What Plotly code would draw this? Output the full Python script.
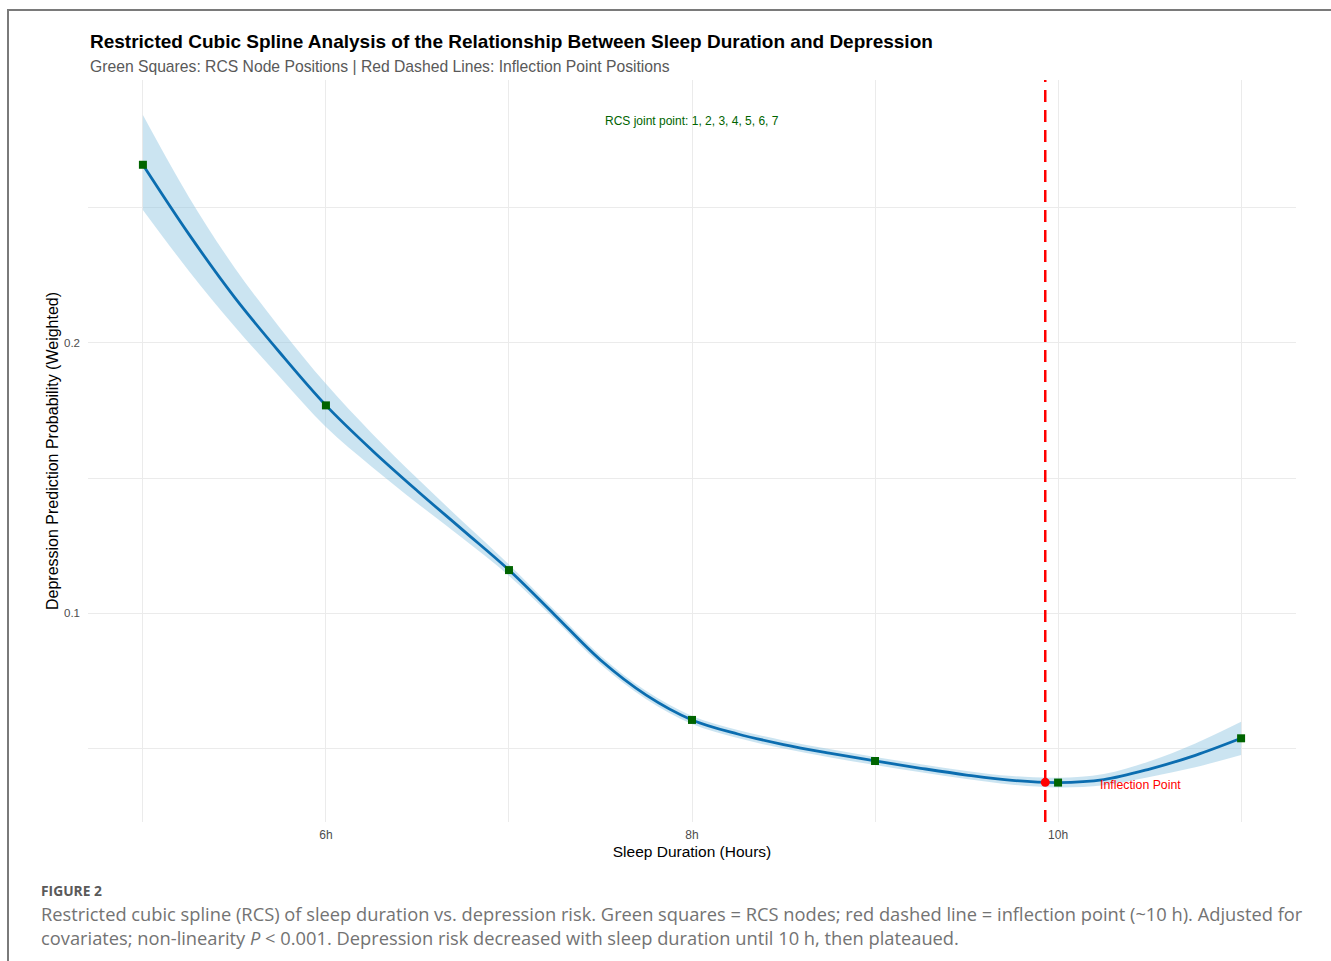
import plotly.graph_objects as go

# ---- data ----
hours = [5.00, 5.25, 5.50, 5.75, 6.00, 6.25, 6.50, 6.75, 7.00, 7.25, 7.50, 7.75,
         8.00, 8.25, 8.50, 8.75, 9.00, 9.25, 9.50, 9.75, 10.00, 10.25, 10.50, 10.75, 11.00]
prob = [0.2660, 0.2404, 0.2170, 0.1963, 0.1769, 0.1604, 0.1452, 0.1306, 0.1159, 0.0993,
        0.0826, 0.0696, 0.0604, 0.0552, 0.0513, 0.0481, 0.0452, 0.0425, 0.0400, 0.0380,
        0.0372, 0.0383, 0.0422, 0.0473, 0.0536]
lower = [0.2493, 0.2268, 0.2062, 0.1872, 0.1689, 0.1542, 0.1406, 0.1275, 0.1138, 0.0976,
         0.0810, 0.0681, 0.0589, 0.0537, 0.0498, 0.0466, 0.0437, 0.0410, 0.0385, 0.0364,
         0.0354, 0.0362, 0.0393, 0.0429, 0.0474]
upper = [0.2844, 0.2542, 0.2280, 0.2055, 0.1849, 0.1666, 0.1498, 0.1337, 0.1180, 0.1010,
         0.0842, 0.0711, 0.0619, 0.0567, 0.0528, 0.0496, 0.0467, 0.0440, 0.0415, 0.0396,
         0.0390, 0.0404, 0.0451, 0.0517, 0.0597]
knot_hours = [5, 6, 7, 8, 9, 10, 11]
knot_prob = [0.2660, 0.1769, 0.1159, 0.0604, 0.0452, 0.0372, 0.0536]
inflect_hour = 9.93
inflect_prob = 0.0373
x_tick_vals = [6, 8, 10]
x_tick_text = ["6h", "8h", "10h"]
x_minor_vals = [5, 7, 9, 11]
y_tick_vals = [0.1, 0.2]
y_tick_text = ["0.1", "0.2"]
y_minor_vals = [0.05, 0.15, 0.25]

title_text = "Restricted Cubic Spline Analysis of the Relationship Between Sleep Duration and Depression"
subtitle_text = "Green Squares: RCS Node Positions | Red Dashed Lines: Inflection Point Positions"
joint_text = "RCS joint point: 1, 2, 3, 4, 5, 6, 7"
caption_head = "FIGURE 2"
caption_lines = [
    "Restricted cubic spline (RCS) of sleep duration vs. depression risk. Green squares = RCS nodes; red dashed line = inflection point (~10 h). Adjusted for",
    "covariates; non-linearity <i>P</i> < 0.001. Depression risk decreased with sleep duration until 10 h, then plateaued.",
]

W, H = 1331, 961
L, R, T, B = 88, 1296, 80, 822


def px(x):
    return (x - L) / (R - L)


def py(y):
    return (B - y) / (B - T)


fig = go.Figure()
fig.add_trace(go.Scatter(x=hours, y=lower, mode="lines", line=dict(width=0, shape="spline"),
                         hoverinfo="skip", showlegend=False))
fig.add_trace(go.Scatter(x=hours, y=upper, mode="lines", line=dict(width=0, shape="spline"),
                         fill="tonexty", fillcolor="rgba(140,196,224,0.45)",
                         hoverinfo="skip", showlegend=False))
fig.add_trace(go.Scatter(x=hours, y=prob, mode="lines",
                         line=dict(color="#0b6db0", width=2.8, shape="spline"),
                         showlegend=False))
fig.add_trace(go.Scatter(x=knot_hours, y=knot_prob, mode="markers",
                         marker=dict(symbol="square", size=8, color="#006400"),
                         showlegend=False))
fig.add_trace(go.Scatter(x=[inflect_hour], y=[inflect_prob], mode="markers",
                         marker=dict(symbol="circle", size=9, color="#ff0000"),
                         showlegend=False))

fig.add_shape(type="line", xref="x", yref="paper", x0=inflect_hour, x1=inflect_hour, y0=0, y1=1,
              line=dict(color="#ff0000", width=2.5, dash="12px,8px"))

# border of the figure image
fig.add_shape(type="line", xref="paper", yref="paper", x0=px(7), x1=px(1331), y0=py(10), y1=py(10),
              line=dict(color="#7a7a7a", width=2))
fig.add_shape(type="line", xref="paper", yref="paper", x0=px(8), x1=px(8), y0=py(10), y1=py(961),
              line=dict(color="#7a7a7a", width=2))

ann = []
ann.append(dict(text="<b>" + title_text + "</b>", xref="paper", yref="paper", x=px(88), y=py(41),
                xanchor="left", yanchor="middle", showarrow=False,
                font=dict(family="Liberation Sans, Arial", size=19, color="#000000")))
ann.append(dict(text=subtitle_text, xref="paper", yref="paper", x=px(88), y=py(66),
                xanchor="left", yanchor="middle", showarrow=False,
                font=dict(family="Liberation Sans, Arial", size=15.7, color="#595959")))
ann.append(dict(text=joint_text, xref="x", yref="y", x=8.0, y=0.2822,
                xanchor="center", yanchor="middle", showarrow=False,
                font=dict(family="Liberation Sans, Arial", size=12, color="#006400")))
ann.append(dict(text="Inflection Point", xref="x", yref="y", x=10.22, y=inflect_prob - 0.0011,
                xanchor="left", yanchor="middle", showarrow=False,
                font=dict(family="Liberation Sans, Arial", size=12.3, color="#ff0000")))
ann.append(dict(text="<b>" + caption_head + "</b>", xref="paper", yref="paper", x=px(39), y=py(890),
                xanchor="left", yanchor="middle", showarrow=False,
                font=dict(family="Open Sans, Lato", size=13.8, color="#5a5a5a")))
for i, line in enumerate(caption_lines):
    ann.append(dict(text=line, xref="paper", yref="paper", x=px(39), y=py(913 + 24 * i),
                    xanchor="left", yanchor="middle", showarrow=False,
                    font=dict(family="Open Sans, Lato", size=18.3, color="#737373")))

fig.update_layout(
    width=W, height=H,
    margin=dict(l=L, r=W - R, t=T, b=H - B),
    paper_bgcolor="white", plot_bgcolor="white",
    annotations=ann,
    font=dict(family="Liberation Sans, Arial"),
    xaxis=dict(range=[4.7, 11.3], tickvals=x_tick_vals, ticktext=x_tick_text,
               showgrid=True, gridcolor="#ebebeb", gridwidth=1, zeroline=False,
               showline=False, ticks="", tickfont=dict(size=12, color="#4d4d4d"),
               ticklabelstandoff=4,
               minor=dict(tickvals=x_minor_vals, showgrid=True, gridcolor="#ebebeb", gridwidth=1),
               title=dict(text="Sleep Duration (Hours)", font=dict(size=15.5, color="#000000"), standoff=5)),
    yaxis=dict(range=[0.0226, 0.2974], tickvals=y_tick_vals, ticktext=y_tick_text,
               showgrid=True, gridcolor="#ebebeb", gridwidth=1, zeroline=False,
               showline=False, ticks="", tickfont=dict(size=11.5, color="#4d4d4d"),
               ticklabelstandoff=7,
               minor=dict(tickvals=y_minor_vals, showgrid=True, gridcolor="#ebebeb", gridwidth=1),
               title=dict(text="Depression Prediction Probability (Weighted)",
                          font=dict(size=16, color="#000000"), standoff=1)),
)

fig.write_html("out.html", config={"displayModeBar": False},
               post_script="document.body.style.margin='0';document.body.style.overflow='hidden';")
